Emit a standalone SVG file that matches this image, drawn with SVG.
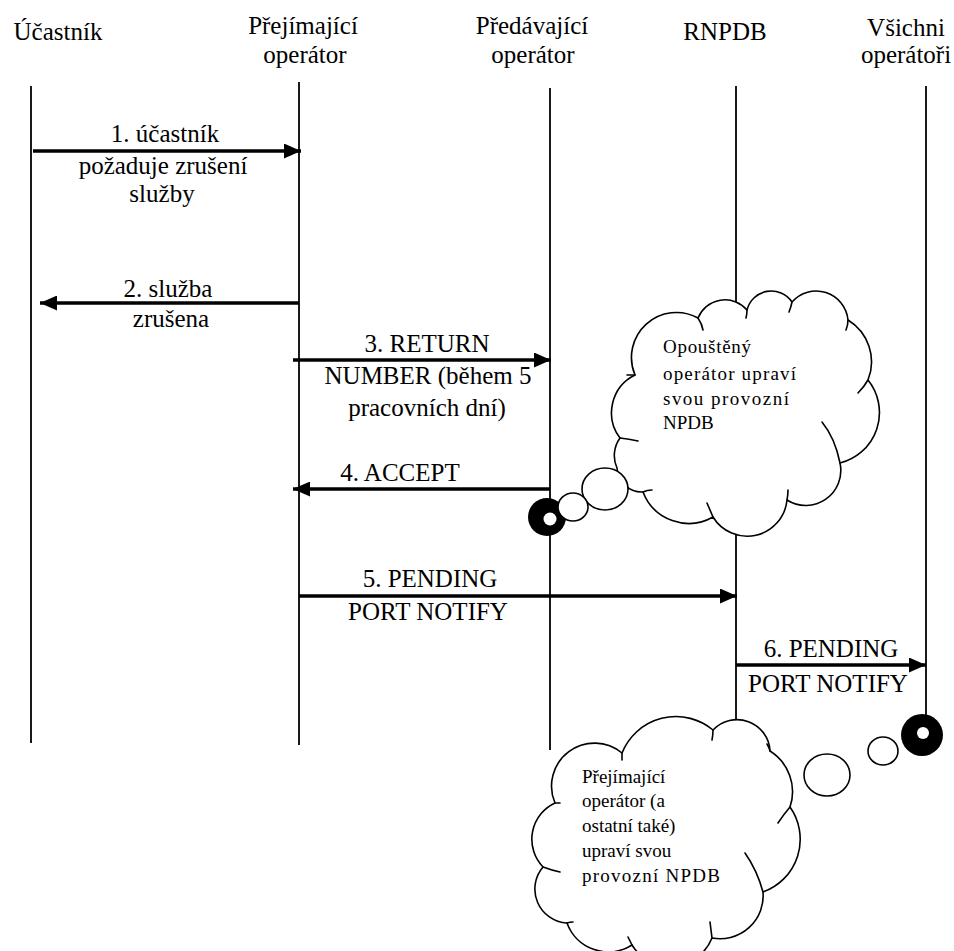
<svg xmlns="http://www.w3.org/2000/svg" width="954" height="951" viewBox="0 0 954 951">
  <defs>
    <marker id="ah" markerUnits="userSpaceOnUse" markerWidth="17" markerHeight="15" refX="17" refY="7.5" orient="auto">
      <path d="M0,0 L17,7.5 L0,15 Z" fill="#000"/>
    </marker>
    <style>
      .life { stroke:#1a1a1a; stroke-width:2; fill:none; }
      .msg { stroke:#000; stroke-width:3.5; fill:none; marker-end:url(#ah); }
      .hdr, .lbl { font-family:"Liberation Serif","DejaVu Serif",serif; font-size:25px; fill:#000; text-anchor:middle; }
      .ctext { font-family:"Liberation Serif","DejaVu Serif",serif; font-size:19px; fill:#000; }
      .cloud { fill:#fff; stroke:#000; stroke-width:1.6; stroke-linejoin:round; }
      .tick { fill:none; stroke:#000; stroke-width:1.6; stroke-linecap:round; }
      .bubble { fill:#fff; stroke:#000; stroke-width:1.6; }
    </style>
  </defs>
  <rect width="954" height="951" fill="#fff"/>

  <!-- lifelines with their headers -->
  <g id="ucastnik">
    <text class="hdr" x="58" y="40">Účastník</text>
    <line class="life" x1="31" y1="86" x2="31" y2="743"/>
  </g>
  <g id="prejimajici-operator">
    <text class="hdr" x="303" y="34">Přejímající</text>
    <text class="hdr" x="305" y="63">operátor</text>
    <line class="life" x1="299" y1="82" x2="299" y2="745"/>
  </g>
  <g id="predavajici-operator">
    <text class="hdr" x="532" y="34">Předávající</text>
    <text class="hdr" x="533" y="63">operátor</text>
    <line class="life" x1="550" y1="88" x2="550" y2="750"/>
  </g>
  <g id="rnpdb">
    <text class="hdr" x="725" y="40">RNPDB</text>
    <line class="life" x1="736" y1="86" x2="736" y2="720"/>
  </g>
  <g id="vsichni-operatori">
    <text class="hdr" x="906" y="36">Všichni</text>
    <text class="hdr" x="906" y="63">operátoři</text>
    <line class="life" x1="926" y1="86" x2="926" y2="720"/>
  </g>

  <!-- messages -->
  <g id="connectors">
    <line class="msg" x1="33" y1="151" x2="301" y2="151"/>
    <text class="lbl" x="165" y="142">1. účastník</text>
    <text class="lbl" x="163" y="174">požaduje zrušení</text>
    <text class="lbl" x="162" y="202">služby</text>

    <line class="msg" x1="299" y1="303" x2="40" y2="303"/>
    <text class="lbl" x="168" y="297">2. služba</text>
    <text class="lbl" x="171" y="327">zrušena</text>

    <line class="msg" x1="293" y1="360" x2="551" y2="360"/>
    <text class="lbl" x="427" y="352">3. RETURN</text>
    <text class="lbl" x="428" y="384">NUMBER (během 5</text>
    <text class="lbl" x="427" y="416">pracovních dní)</text>

    <line class="msg" x1="550" y1="489" x2="293" y2="489"/>
    <text class="lbl" x="400" y="481">4. ACCEPT</text>

    <line class="msg" x1="299" y1="596" x2="737" y2="596"/>
    <text class="lbl" x="430" y="587">5. PENDING</text>
    <text class="lbl" x="428" y="620">PORT NOTIFY</text>

    <line class="msg" x1="736" y1="665" x2="926" y2="665"/>
    <text class="lbl" x="831" y="657">6. PENDING</text>
    <text class="lbl" x="828" y="692">PORT NOTIFY</text>
  </g>

  <!-- thought cloud of the donor operator -->
  <g id="cloud-opousteny">
    <path class="cloud" d="M635,375 A45,45 0 0 1 698,318 A29,29 0 0 1 747,310 A25,25 0 0 1 792,302 A32,32 0 0 1 848,320 A49,49 0 0 1 868,380 A52,52 0 0 1 840,463 A35,35 0 0 1 787,500 A40,40 0 0 1 713,517 A49,49 0 0 1 643,492 A25,25 0 0 1 617,468 A30,30 0 0 1 620,438 A42,42 0 0 1 635,375 Z"/>
    <path class="tick" d="M698,318 q4,6 5,12"/>
    <path class="tick" d="M747,310 q0,4 -1,8"/>
    <path class="tick" d="M792,302 q-1,5 -3,10"/>
    <path class="tick" d="M848,320 q0,5 -2,10"/>
    <path class="tick" d="M868,380 q-4,7 -10,13"/>
    <path class="tick" d="M840,463 q-5,-25 -18,-41"/>
    <path class="tick" d="M787,500 q1,-5 1,-10"/>
    <path class="tick" d="M713,517 q-3,-7 -6,-14"/>
    <path class="tick" d="M643,492 q4,-2 9,-2"/>
    <path class="tick" d="M620,438 q9,1 18,3"/>
    <path class="tick" d="M635,375 h-8"/>
    <text class="ctext" x="663" y="353" textLength="88" lengthAdjust="spacing">Opouštěný</text>
    <text class="ctext" x="663" y="380" textLength="133" lengthAdjust="spacing">operátor upraví</text>
    <text class="ctext" x="663" y="405" textLength="126" lengthAdjust="spacing">svou provozní</text>
    <text class="ctext" x="663" y="429">NPDB</text>
  </g>
  <g id="thought-trail-1">
    <ellipse class="bubble" cx="605" cy="489" rx="23" ry="21"/>
    <circle cx="547" cy="517" r="19" fill="#000"/>
    <circle cx="550" cy="519" r="6.5" fill="#fff"/>
    <ellipse class="bubble" cx="573" cy="507" rx="15" ry="14"/>
  </g>

  <!-- thought cloud of the recipient operator -->
  <g id="cloud-prejimajici">
    <path class="cloud" d="M713,730 A33,33 0 0 1 770,751 A48,48 0 0 1 790,807 A56,56 0 0 1 763,892 A43,43 0 0 1 712,938 A45,45 0 0 1 632,945 A44,44 0 0 1 567,923 A34,34 0 0 1 543,867 A40,40 0 0 1 555,803 A43,43 0 0 1 622,753 A58,58 0 0 1 713,730 Z"/>
    <path class="tick" d="M713,730 q0,5 -1,10"/>
    <path class="tick" d="M770,751 q-1,-4 -3,-7"/>
    <path class="tick" d="M790,807 q-6,7 -12,16"/>
    <path class="tick" d="M763,892 q-6,-22 -18,-39"/>
    <path class="tick" d="M712,938 q-1,-8 -2,-16"/>
    <path class="tick" d="M632,945 q-2,-4 -4,-8"/>
    <path class="tick" d="M567,923 q3,-1 6,-1"/>
    <path class="tick" d="M543,867 q8,3 17,5"/>
    <path class="tick" d="M555,803 h5"/>
    <path class="tick" d="M622,753 q0,4 0,7"/>
    <text class="ctext" x="582" y="783">Přejímající</text>
    <text class="ctext" x="582" y="807">operátor (a</text>
    <text class="ctext" x="582" y="832">ostatní také)</text>
    <text class="ctext" x="582" y="857">upraví svou</text>
    <text class="ctext" x="582" y="882" textLength="138" lengthAdjust="spacing">provozní NPDB</text>
  </g>
  <g id="thought-trail-2">
    <ellipse class="bubble" cx="827" cy="775" rx="23" ry="21"/>
    <ellipse class="bubble" cx="883" cy="751" rx="15" ry="14"/>
    <circle cx="922" cy="735" r="21" fill="#000"/>
    <circle cx="923" cy="733" r="6" fill="#fff"/>
  </g>
</svg>
